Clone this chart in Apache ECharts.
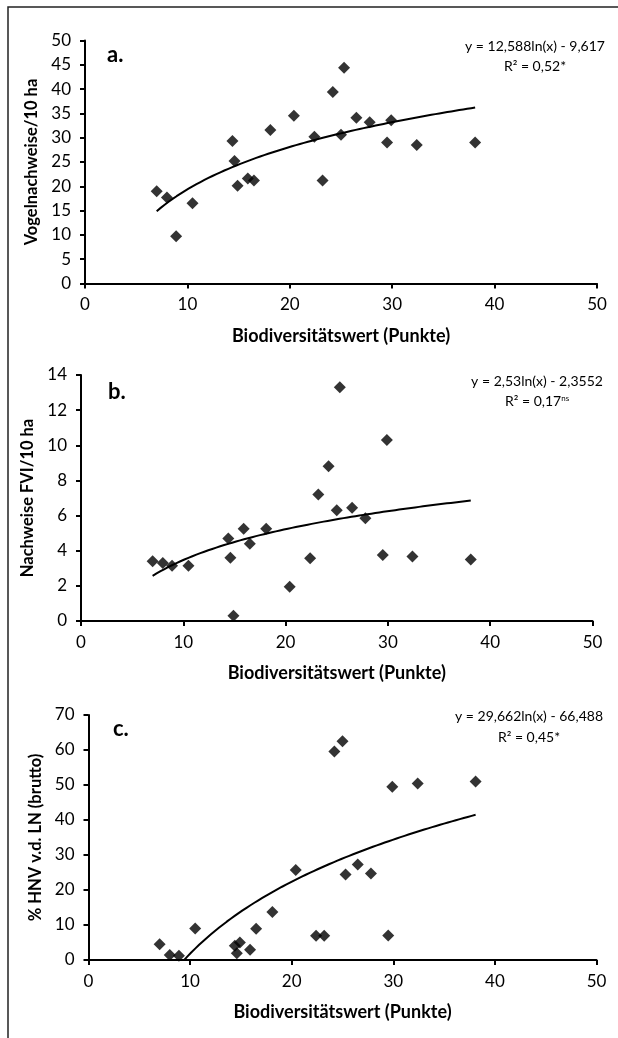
<!DOCTYPE html>
<html style="height: 100%">
<head>
	<meta charset="utf-8">
</head>
<body style="height: 100%; margin: 0; background: #fff">
<div id="container" style="width: 618px; height: 1038px"></div>
<script type="text/javascript" src="https://cdn.jsdelivr.net/npm/echarts@6/dist/echarts.min.js"></script>
<script type="text/javascript">
    // Biodiversitätswert (Punkte), shared by all three panels
    var biodiv = [7.0, 8.0, 8.9, 10.5, 14.4, 14.6, 14.9, 15.9, 16.5, 18.1, 20.4, 22.4, 23.2, 24.2, 25.0, 25.3, 26.5, 27.8, 29.5, 29.9, 32.4, 38.1];
    var vogel = [19.0, 17.7, 9.7, 16.5, 29.3, 25.2, 20.1, 21.6, 21.2, 31.6, 34.5, 30.2, 21.2, 39.4, 30.6, 44.4, 34.1, 33.2, 29.0, 33.6, 28.5, 29.0];
    var fvi = [3.4, 3.3, 3.15, 3.15, 4.7, 3.6, 0.3, 5.25, 4.4, 5.25, 1.95, 3.57, 7.2, 8.8, 6.3, 13.3, 6.45, 5.85, 3.75, 10.3, 3.67, 3.5];
    var hnv = [4.5, 1.4, 1.2, 9.0, 4.1, 1.9, 5.0, 2.9, 8.9, 13.7, 25.7, 6.9, 6.9, 59.6, 62.5, 24.4, 27.3, 24.7, 7.0, 49.5, 50.4, 51.0];

    // trendline coefficients y = a*ln(x) + b, as printed in the chart
    var trendA = [12.588, -9.617];
    var trendB = [2.53, -2.3552];
    var trendC = [29.662, -66.488];

    var yTitles = ['Vogelnachweise/10 ha', 'Nachweise FVI/10 ha', '% HNV v.d. LN (brutto)'];
    var yMax = [50, 14, 70];
    var yStep = [5, 2, 10];
    var xTitle = 'Biodiversitätswert (Punkte)';

    var font = 'Lato, "Open Sans", sans-serif';

    function pairs(ys) {
        return biodiv.map(function (x, i) { return [x, ys[i]]; });
    }

    function trend(c) {
        var lo = Math.min.apply(null, biodiv), hi = Math.max.apply(null, biodiv);
        var pts = [];
        for (var i = 0; i <= 80; i++) {
            var x = lo + (hi - lo) * i / 80;
            pts.push([x, c[0] * Math.log(x) + c[1]]);
        }
        return pts;
    }

    var grids = [
        {left: 85, right: 21, top: 40.5, height: 243},
        {left: 81, right: 25.5, top: 375, height: 246},
        {left: 88.5, right: 21.5, top: 715, height: 245}
    ];
    var yGaps = [44, 43, 44];
    var xGaps = [44, 43, 43];

    var axisLine = {lineStyle: {color: '#000', width: 2}};
    var axisTick = {inside: false, length: 5, lineStyle: {color: '#000', width: 2}};

    var xAxes = [], yAxes = [], series = [];
    var ys = [vogel, fvi, hnv], trends = [trendA, trendB, trendC];
    for (var k = 0; k < 3; k++) {
        xAxes.push({
            type: 'value', gridIndex: k, min: 0, max: 50, interval: 10,
            splitLine: {show: false}, axisLine: axisLine, axisTick: axisTick,
            axisLabel: {color: '#000', fontSize: 17, fontFamily: font, margin: 13},
            name: xTitle, nameLocation: 'middle', nameGap: xGaps[k],
            nameTextStyle: {color: '#000', fontSize: 18, fontWeight: 'bold', fontFamily: font}
        });
        yAxes.push({
            type: 'value', gridIndex: k, min: 0, max: yMax[k], interval: yStep[k],
            splitLine: {show: false}, axisLine: Object.assign({onZero: false}, axisLine), axisTick: axisTick,
            axisLabel: {color: '#000', fontSize: 17, fontFamily: font, margin: 14},
            name: yTitles[k], nameLocation: 'middle', nameGap: yGaps[k],
            nameTextStyle: {color: '#000', fontSize: 16.5, fontWeight: 'bold', fontFamily: font}
        });
        series.push({
            type: 'line', xAxisIndex: k, yAxisIndex: k, data: trend(trends[k]),
            showSymbol: false, clip: true, silent: true,
            lineStyle: {color: '#000', width: 2}, z: 2
        });
        series.push({
            type: 'scatter', xAxisIndex: k, yAxisIndex: k, data: pairs(ys[k]),
            symbol: 'diamond', symbolSize: 12,
            itemStyle: {color: '#000'}, z: 3
        });
    }

    var eqStyle = {fill: '#000', fontSize: 14, fontFamily: font, textAlign: 'center'};

    var graphic = [
        {type: 'polyline', shape: {points: [[8, 1038], [8, 7], [618, 7]]}, style: {stroke: '#222', lineWidth: 1.5, fill: null}},
        {type: 'text', x: 107, y: 44, style: {text: 'a.', fill: '#000', fontSize: 22, fontWeight: 'bold', fontFamily: font}},
        {type: 'text', x: 108, y: 381, style: {text: 'b.', fill: '#000', fontSize: 22, fontWeight: 'bold', fontFamily: font}},
        {type: 'text', x: 113, y: 718, style: {text: 'c.', fill: '#000', fontSize: 22, fontWeight: 'bold', fontFamily: font}},
        {type: 'text', x: 535, y: 39, style: Object.assign({}, eqStyle, {text: 'y = 12,588ln(x) - 9,617'})},
        {type: 'text', x: 535, y: 59, style: Object.assign({}, eqStyle, {text: 'R² = 0,52*'})},
        {type: 'text', x: 537, y: 374, style: Object.assign({}, eqStyle, {text: 'y = 2,53ln(x) - 2,3552'})},
        {type: 'text', x: 537, y: 394, style: Object.assign({}, eqStyle, {
            text: 'R² = 0,17{s|ns}', rich: {s: {fontSize: 8, verticalAlign: 'top', fontFamily: font, fill: '#000', padding: [0, 0, 6, 0]}}
        })},
        {type: 'text', x: 529, y: 709, style: Object.assign({}, eqStyle, {text: 'y = 29,662ln(x) - 66,488'})},
        {type: 'text', x: 529, y: 730, style: Object.assign({}, eqStyle, {text: 'R² = 0,45*'})}
    ];

    var chart = echarts.init(document.getElementById('container'));
    chart.setOption({
        backgroundColor: '#fff',
        animation: false,
        grid: grids,
        xAxis: xAxes,
        yAxis: yAxes,
        series: series,
        graphic: graphic
    });
</script>
</body>
</html>
